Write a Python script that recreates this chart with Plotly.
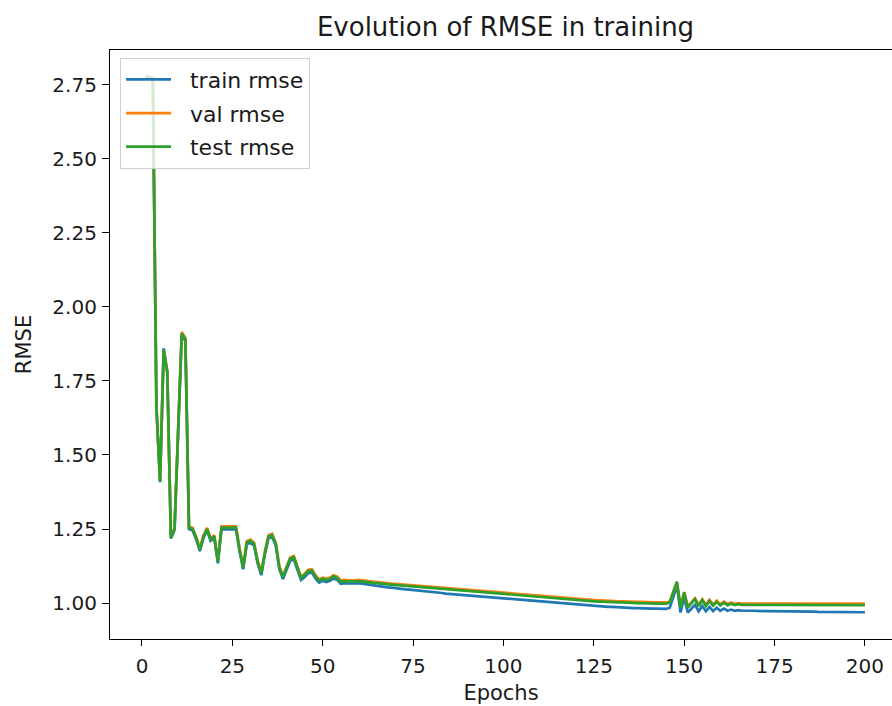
import plotly.graph_objects as go

epochs = list(range(1, 201))

test_rmse = [
    2.777, 2.776, 2.772, 1.660, 1.410, 1.855, 1.780, 1.220, 1.250, 1.600,
    1.910, 1.890, 1.255, 1.250, 1.220, 1.180, 1.225, 1.250, 1.215, 1.225,
    1.140, 1.255, 1.255, 1.255, 1.255, 1.255, 1.180, 1.120, 1.205, 1.210,
    1.200, 1.140, 1.100, 1.170, 1.225, 1.230, 1.200, 1.120, 1.088, 1.120,
    1.150, 1.155, 1.120, 1.085, 1.095, 1.108, 1.110, 1.090, 1.076, 1.082,
    1.078, 1.082, 1.090, 1.085, 1.072, 1.074, 1.073, 1.072, 1.073, 1.074,
    1.072, 1.071, 1.069, 1.068, 1.067, 1.065, 1.064, 1.063, 1.062, 1.061,
    1.060, 1.058, 1.057, 1.056, 1.055, 1.054, 1.053, 1.052, 1.051, 1.050,
    1.049, 1.048, 1.047, 1.046, 1.045, 1.044, 1.043, 1.042, 1.041, 1.040,
    1.039, 1.038, 1.037, 1.036, 1.035, 1.034, 1.033, 1.032, 1.031, 1.030,
    1.029, 1.028, 1.027, 1.026, 1.025, 1.024, 1.023, 1.022, 1.021, 1.020,
    1.019, 1.018, 1.017, 1.016, 1.015, 1.014, 1.013, 1.012, 1.011, 1.010,
    1.009, 1.008, 1.007, 1.006, 1.006, 1.005, 1.005, 1.004, 1.004, 1.003,
    1.003, 1.002, 1.002, 1.001, 1.001, 1.000, 1.000, 1.000, 0.999, 0.999,
    0.999, 0.998, 0.998, 0.998, 0.998, 1.002, 1.035, 1.072, 0.984, 1.035,
    0.985, 1.000, 1.013, 0.990, 1.010, 0.990, 1.007, 0.991, 1.004, 0.992,
    1.001, 0.993, 0.998, 0.993, 0.996, 0.994, 0.995, 0.994, 0.994, 0.994,
    0.994, 0.994, 0.994, 0.994, 0.994, 0.994, 0.993, 0.993, 0.993, 0.993,
    0.993, 0.993, 0.993, 0.993, 0.993, 0.993, 0.993, 0.993, 0.993, 0.993,
    0.993, 0.993, 0.993, 0.993, 0.993, 0.993, 0.993, 0.993, 0.993, 0.993,
]

val_rmse = [
    2.777, 2.776, 2.772, 1.662, 1.412, 1.853, 1.782, 1.222, 1.252, 1.603,
    1.915, 1.895, 1.258, 1.254, 1.224, 1.184, 1.229, 1.254, 1.219, 1.229,
    1.144, 1.259, 1.259, 1.259, 1.259, 1.259, 1.184, 1.124, 1.209, 1.214,
    1.204, 1.144, 1.104, 1.174, 1.229, 1.234, 1.204, 1.124, 1.092, 1.124,
    1.154, 1.159, 1.124, 1.089, 1.099, 1.112, 1.114, 1.094, 1.080, 1.086,
    1.082, 1.086, 1.094, 1.089, 1.076, 1.078, 1.077, 1.076, 1.077, 1.078,
    1.076, 1.075, 1.073, 1.072, 1.071, 1.069, 1.068, 1.067, 1.066, 1.065,
    1.064, 1.062, 1.061, 1.060, 1.059, 1.058, 1.057, 1.056, 1.055, 1.054,
    1.053, 1.052, 1.051, 1.050, 1.049, 1.048, 1.047, 1.046, 1.045, 1.044,
    1.043, 1.042, 1.041, 1.040, 1.039, 1.038, 1.037, 1.036, 1.035, 1.034,
    1.033, 1.032, 1.031, 1.030, 1.029, 1.028, 1.027, 1.026, 1.025, 1.024,
    1.023, 1.022, 1.021, 1.020, 1.019, 1.018, 1.017, 1.016, 1.015, 1.014,
    1.013, 1.012, 1.011, 1.010, 1.010, 1.009, 1.009, 1.008, 1.008, 1.007,
    1.007, 1.006, 1.006, 1.005, 1.005, 1.004, 1.004, 1.004, 1.003, 1.003,
    1.003, 1.002, 1.002, 1.002, 1.002, 1.005, 1.037, 1.070, 0.988, 1.037,
    0.989, 1.004, 1.016, 0.994, 1.013, 0.994, 1.011, 0.995, 1.008, 0.996,
    1.005, 0.997, 1.002, 0.997, 1.000, 0.998, 0.999, 0.998, 0.998, 0.998,
    0.998, 0.998, 0.998, 0.998, 0.998, 0.998, 0.998, 0.998, 0.998, 0.998,
    0.998, 0.998, 0.998, 0.998, 0.998, 0.998, 0.998, 0.998, 0.998, 0.998,
    0.998, 0.998, 0.998, 0.998, 0.998, 0.998, 0.998, 0.998, 0.998, 0.998,
]

train_rmse = [
    2.777, 2.776, 2.771, 1.658, 1.408, 1.860, 1.778, 1.218, 1.247, 1.597,
    1.905, 1.885, 1.250, 1.245, 1.215, 1.175, 1.220, 1.245, 1.210, 1.219,
    1.134, 1.249, 1.249, 1.249, 1.249, 1.249, 1.174, 1.114, 1.199, 1.204,
    1.194, 1.134, 1.094, 1.164, 1.219, 1.224, 1.194, 1.114, 1.081, 1.113,
    1.143, 1.148, 1.113, 1.078, 1.088, 1.101, 1.103, 1.083, 1.069, 1.075,
    1.071, 1.075, 1.083, 1.078, 1.065, 1.067, 1.066, 1.065, 1.066, 1.067,
    1.065, 1.063, 1.061, 1.060, 1.058, 1.056, 1.055, 1.053, 1.052, 1.050,
    1.049, 1.047, 1.046, 1.045, 1.044, 1.042, 1.041, 1.040, 1.039, 1.037,
    1.036, 1.035, 1.034, 1.032, 1.031, 1.030, 1.029, 1.027, 1.026, 1.025,
    1.024, 1.023, 1.022, 1.021, 1.020, 1.019, 1.018, 1.017, 1.016, 1.015,
    1.014, 1.013, 1.012, 1.011, 1.010, 1.009, 1.008, 1.007, 1.006, 1.005,
    1.004, 1.003, 1.002, 1.001, 1.000, 0.999, 0.998, 0.997, 0.996, 0.995,
    0.994, 0.993, 0.992, 0.991, 0.990, 0.989, 0.989, 0.988, 0.987, 0.987,
    0.986, 0.985, 0.985, 0.984, 0.984, 0.983, 0.983, 0.982, 0.982, 0.982,
    0.981, 0.981, 0.980, 0.980, 0.980, 0.984, 1.018, 1.058, 0.968, 1.018,
    0.968, 0.982, 0.994, 0.972, 0.990, 0.972, 0.987, 0.973, 0.984, 0.974,
    0.981, 0.974, 0.978, 0.974, 0.976, 0.974, 0.975, 0.974, 0.974, 0.973,
    0.973, 0.973, 0.973, 0.973, 0.972, 0.972, 0.972, 0.972, 0.972, 0.972,
    0.971, 0.971, 0.971, 0.971, 0.971, 0.971, 0.970, 0.970, 0.970, 0.970,
    0.970, 0.970, 0.970, 0.970, 0.969, 0.969, 0.969, 0.969, 0.969, 0.969,
]

x_ticks = [0, 25, 50, 75, 100, 125, 150, 175, 200]
y_ticks = [1.00, 1.25, 1.50, 1.75, 2.00, 2.25, 2.50, 2.75]

series = [
    ("train rmse", train_rmse, "#1f77b4"),
    ("val rmse", val_rmse, "#ff7f0e"),
    ("test rmse", test_rmse, "#2ca02c"),
]

FONT = "DejaVu Sans"
TXT = "#1a1a1a"
NBSP = "\u00a0"
fig = go.Figure()
for i, (name, vals, color) in enumerate(series):
    fig.add_trace(go.Scatter(
        x=epochs, y=vals, mode="lines", name=NBSP * 2 + name,
        line=dict(color=color, width=2.7),
        legendgroup=f"g{i}",
    ))

W, H = 892, 706
L, T, B = 110, 50, 67
fig.update_layout(
    width=W, height=H,
    margin=dict(l=L, r=0, t=T, b=B, pad=0),
    paper_bgcolor="white", plot_bgcolor="white",
    font=dict(family=FONT, size=20, color=TXT),
    title=dict(text="Evolution of RMSE in training",
               x=0.5058, xref="paper", xanchor="center",
               y=1 - 27 / H, yref="container", yanchor="middle",
               font=dict(family=FONT, size=26, color=TXT)),
    showlegend=True,
    legend=dict(x=0.0128, y=0.987, xanchor="left", yanchor="top",
                bgcolor="rgba(255,255,255,0.8)", bordercolor="#d0d0d0",
                borderwidth=1, font=dict(family=FONT, size=22, color=TXT),
                tracegroupgap=2, traceorder="grouped", itemwidth=45),
)
fig.update_xaxes(
    range=[-8.85, 207.5], tickmode="array", tickvals=x_ticks,
    ticktext=[str(v) for v in x_ticks], automargin=False,
    showgrid=False, zeroline=False, showline=True, linecolor="black",
    linewidth=1.2, mirror=True, ticks="outside", ticklen=6, tickwidth=1.2,
    tickcolor="black", ticklabelstandoff=3,
    tickfont=dict(family=FONT, size=20, color=TXT),
    title=dict(text="Epochs", standoff=8,
               font=dict(family=FONT, size=21, color=TXT)),
)
fig.update_yaxes(
    range=[0.8786, 2.8674], tickmode="array", tickvals=y_ticks,
    ticktext=[f"{v:.2f}" for v in y_ticks], automargin=False,
    showgrid=False, zeroline=False, showline=True, linecolor="black",
    linewidth=1.2, mirror=False, ticks="outside", ticklen=7, tickwidth=1.2,
    tickcolor="black", ticklabelstandoff=1,
    tickfont=dict(family=FONT, size=20, color=TXT),
    title=dict(text="RMSE", standoff=15,
               font=dict(family=FONT, size=21, color=TXT)),
)

fig.write_html("out.html")
